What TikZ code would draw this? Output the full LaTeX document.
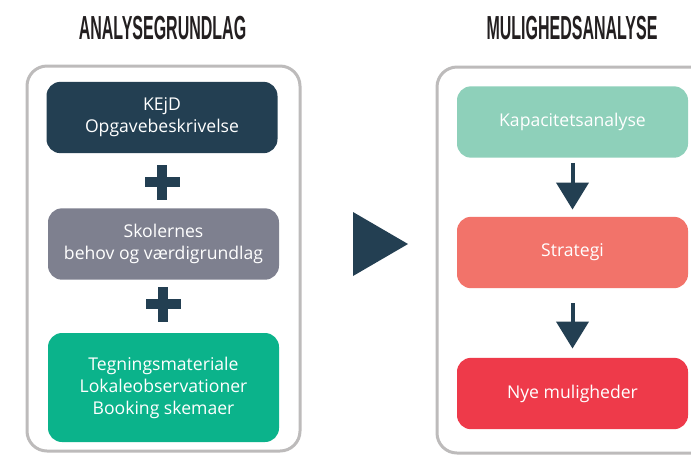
\documentclass[tikz,border=0pt]{standalone}
\usepackage{fontspec}
\setmainfont{Open Sans}
\newfontfamily\headfont[FakeStretch=0.48]{Liberation Sans}
\usetikzlibrary{arrows.meta}
\definecolor{navy}{HTML}{233F52}
\definecolor{slate}{HTML}{7E808F}
\definecolor{jade}{HTML}{0BB38B}
\definecolor{mint}{HTML}{8ED0BA}
\definecolor{salmon}{HTML}{F2736A}
\definecolor{crimson}{HTML}{EE3A4A}
\definecolor{frame}{HTML}{BDBBBB}
\definecolor{ink}{HTML}{231F20}
\tikzset{
  panel/.style={draw=frame, line width=2.25pt, rounded corners=15pt},
  card/.style={rounded corners=10.5pt, inner sep=0pt, minimum width=173.25pt,
    minimum height=53.5pt, text=white, align=center,
    font=\fontsize{13.2}{16.5}\selectfont},
  heading/.style={anchor=base, text=ink, inner sep=0pt,
    font=\headfont\bfseries\fontsize{25}{25}\selectfont},
  flow/.style={draw=navy, line width=3pt,
    -{Triangle[width=24pt, length=20.25pt]}},
}
\begin{document}
\begin{tikzpicture}[x=0.75pt, y=-0.75pt]
\clip (0,0) rectangle (691,455);
\fill[white] (0,0) rectangle (691,455);
% headings
\node[heading] (h1) at (162.5,39) {ANALYSEGRUNDLAG};
\node[heading] (h2) at (572,39) {MULIGHEDSANALYSE};
% panels
\draw[panel] (27,66) rectangle (300,451);
\draw[panel] (437,67) rectangle (740,453);
% left cards
\node[card, fill=navy] (a) at (162,117.5) {KEjD\\Opgavebeskrivelse};
\node[card, fill=slate] (b) at (163.5,244) {Skolernes\\behov og værdigrundlag};
\node[card, fill=jade, minimum height=81.75pt] (c) at (163.5,387.5)
  {Tegningsmateriale\\Lokaleobservationer\\Booking skemaer};
% plus signs
\foreach \px/\py in {162/182, 163/304}{
  \fill[navy] (\px-17.5,\py-5) rectangle (\px+17.5,\py+5);
  \fill[navy] (\px-5,\py-17.5) rectangle (\px+5,\py+17.5);
}
% big triangle
\fill[navy] (353,212) -- (408,244) -- (353,276) -- cycle;
% right cards
\node[card, fill=mint] (k) at (572.5,122) {Kapacitetsanalyse};
\node[card, fill=salmon] (s) at (572.5,252.5) {Strategi};
\node[card, fill=crimson] (n) at (572.5,393.5) {Nye muligheder};
% arrows
\draw[flow, shorten <=3.75pt, shorten >=5.25pt] (k.south) -- (s.north);
\draw[flow, shorten <=11.25pt, shorten >=6.75pt] (s.south) -- (n.north);
\end{tikzpicture}
\end{document}
